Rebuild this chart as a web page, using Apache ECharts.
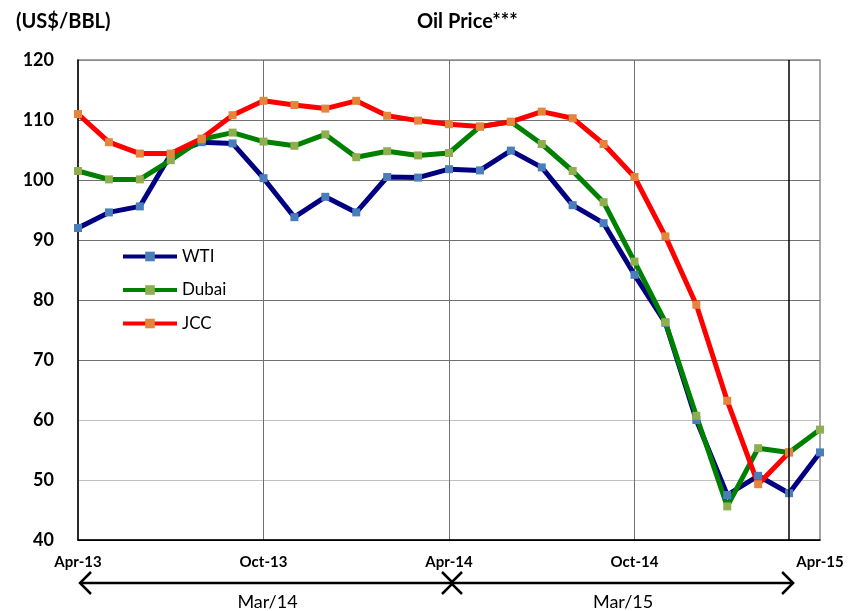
<!DOCTYPE html>
<html>
<head>
<meta charset="utf-8">
<title>Oil Price</title>
<script src="https://cdn.jsdelivr.net/npm/echarts@6/dist/echarts.min.js"></script>
<style>
  html,body{margin:0;padding:0;background:#fff;}
  #main{width:850px;height:611px;}
</style>
</head>
<body>
<div id="main"></div>
<script>
// monthly categories, Apr-13 .. Apr-15
var months = ["Apr-13","May-13","Jun-13","Jul-13","Aug-13","Sep-13","Oct-13","Nov-13","Dec-13",
  "Jan-14","Feb-14","Mar-14","Apr-14","May-14","Jun-14","Jul-14","Aug-14","Sep-14","Oct-14",
  "Nov-14","Dec-14","Jan-15","Feb-15","Mar-15","Apr-15"];

var wti = [92.0, 94.6, 95.6, 104.3, 106.3, 106.1, 100.3, 93.8, 97.2, 94.6, 100.5, 100.4,
  101.8, 101.6, 104.9, 102.1, 95.8, 92.8, 84.2, 76.2, 60.0, 47.5, 50.7, 47.8, 54.6];
var dubai = [101.5, 100.1, 100.1, 103.3, 106.8, 107.9, 106.4, 105.7, 107.6, 103.8, 104.8, 104.1,
  104.5, 108.9, 109.7, 106.0, 101.5, 96.3, 86.4, 76.3, 60.7, 45.6, 55.3, 54.6, 58.4];
var jcc = [111.0, 106.3, 104.4, 104.4, 106.9, 110.8, 113.2, 112.5, 111.9, 113.2, 110.7, 109.9,
  109.3, 108.9, 109.7, 111.4, 110.3, 106.0, 100.5, 90.6, 79.2, 63.2, 49.3, 54.6, null];

// ticks shown on the x axis / gridlines
var gridMonths = ["Oct-13","Apr-14","Oct-14"];
var cutMonth = "Mar-15";
// bottom annotation spans
var spans = [
  {from:"Apr-13", to:"Apr-14", text:"Mar/14"},
  {from:"Apr-14", to:"Mar-15", text:"Mar/15"}
];

var FONT = "Lato";

var App = {
  chart: null,
  init: function(){
    App.chart = echarts.init(document.getElementById("main"));
    App.draw();
    App.arrows();
  },
  mkSeries: function(name, data, lineColor, dotColor){
    return {
      name: name,
      type: "line",
      data: data,
      z: 3,
      symbol: "rect",
      symbolSize: 8,
      showAllSymbol: true,
      connectNulls: false,
      animation: false,
      lineStyle: {color: lineColor, width: 5},
      itemStyle: {color: dotColor},
      emphasis: {disabled: true}
    };
  },
  draw: function(){
    var option = {
      animation: false,
      title: [
        {text: "(US$/BBL)", left: 11, top: 7,
          textStyle: {fontFamily: FONT, fontWeight: "bold", fontSize: 20, color: "#000"}},
        {text: "Oil Price***", left: 412, top: 7,
          textStyle: {fontFamily: FONT, fontWeight: "bold", fontSize: 20, color: "#000"}}
      ],
      legend: {
        data: ["WTI","Dubai","JCC"],
        orient: "vertical",
        left: 116,
        top: 243,
        itemWidth: 54,
        itemHeight: 12,
        itemGap: 16.5,
        lineStyle: {width: 4},
        textStyle: {fontFamily: FONT, fontSize: 17, color: "#000"}
      },
      grid: {
        left: 78, right: 30, top: 60, bottom: 71,
        show: true, borderColor: "#8a8a8a", borderWidth: 1.5
      },
      xAxis: {
        type: "category",
        data: months,
        boundaryGap: false,
        axisLine: {lineStyle: {color: "#000", width: 1.5}},
        axisTick: {show: false},
        axisLabel: {
          interval: 5, margin: 15, color: "#000",
          fontFamily: FONT, fontWeight: "bold", fontSize: 15
        },
        splitLine: {
          show: true,
          interval: function(i, v){ return gridMonths.indexOf(v) >= 0; },
          lineStyle: {color: "#707070", width: 1}
        }
      },
      yAxis: {
        type: "value",
        min: 40, max: 120, interval: 10,
        axisLine: {show: true, lineStyle: {color: "#000", width: 1.5}},
        axisTick: {show: false},
        axisLabel: {margin: 24, color: "#000", fontFamily: FONT, fontWeight: "bold", fontSize: 18},
        splitLine: {
          lineStyle: {
            color: ["#000","#c0c0c0","#c0c0c0","#707070","#707070","#707070","#707070","#707070","#8a8a8a"],
            width: 1
          }
        }
      },
      series: [
        // just carries the black Mar-15 marker line, under the data lines
        {
          name: "cut", type: "line", data: [], z: 1, animation: false,
          markLine: {
            silent: true, symbol: "none", animation: false,
            label: {show: false},
            lineStyle: {color: "#000", width: 1.5, type: "solid"},
            data: [{xAxis: cutMonth}]
          }
        },
        App.mkSeries("WTI", wti, "#000080", "#4a7ebb"),
        App.mkSeries("Dubai", dubai, "#008000", "#8fae50"),
        App.mkSeries("JCC", jcc, "#ff0000", "#e3853c")
      ]
    };
    App.chart.setOption(option);
  },
  // double headed arrows under the axis
  arrows: function(){
    var y = 583, h = 11, els = [];
    var px = function(m){ return App.chart.convertToPixel({xAxisIndex: 0}, m); };
    spans.forEach(function(s){
      var a = px(s.from) + 2, b = px(s.to) + 4;
      var st = {stroke: "#000", lineWidth: 2.5, fill: null};
      els.push({type: "polyline", shape: {points: [[a, y], [b, y]]}, style: st});
      els.push({type: "polyline", shape: {points: [[a + h, y - h], [a, y], [a + h, y + h]]}, style: st});
      els.push({type: "polyline", shape: {points: [[b - h, y - h], [b, y], [b - h, y + h]]}, style: st});
      els.push({
        type: "text", x: (a + b) / 2 + 1, y: 602,
        style: {text: s.text, fontFamily: FONT, fontSize: 18, fill: "#000", align: "center", verticalAlign: "middle"}
      });
    });
    App.chart.setOption({graphic: els});
  }
};

App.init();
</script>
</body>
</html>
